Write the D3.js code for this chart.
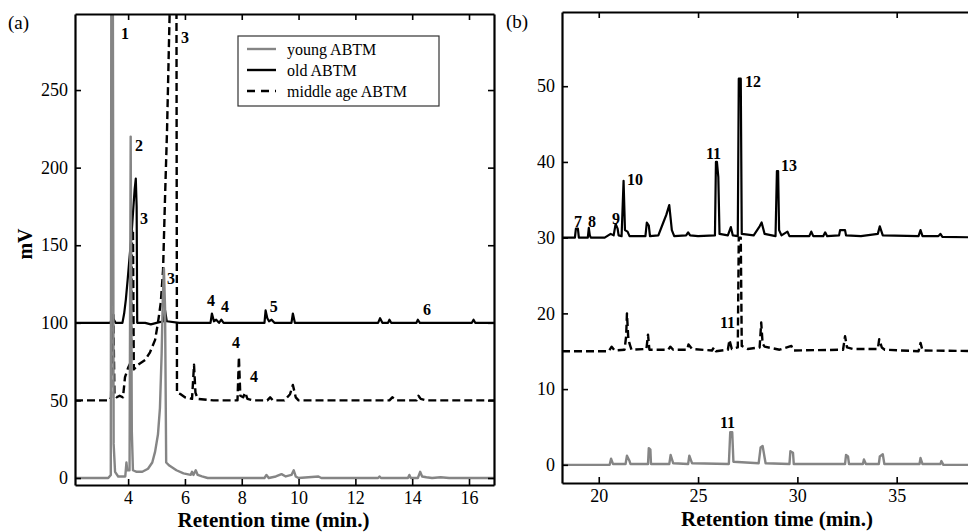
<!DOCTYPE html>
<html>
<head>
<meta charset="utf-8">
<script src="https://cdn.jsdelivr.net/npm/d3@7"></script>
<style>
  body { margin: 0; background: #fff; }
  svg text { font-family: 'Liberation Serif', 'Times New Roman', serif; fill: #000; }
</style>
</head>
<body>
<div class="chromatogram"></div>
<script>
// Chromatograms of ABTM extracts, two retention-time windows

// (a) 2 - 17 min
var a_xticks = [4, 6, 8, 10, 12, 14, 16];
var a_yticks = [0, 50, 100, 150, 200, 250];

var a_young_t = [2.13, 3.3, 3.39, 3.41, 3.46, 3.49, 3.54, 3.65, 3.9, 3.94, 3.97, 4.05, 4.09, 4.13, 4.17, 4.3, 4.5, 4.7, 4.85, 4.95, 5.05, 5.12, 5.18, 5.22, 5.26, 5.3, 5.34, 5.45, 5.7, 5.95, 6.2, 6.25, 6.3, 6.38, 6.45, 6.6, 6.8, 8.8, 8.87, 8.95, 9.2, 9.4, 9.55, 9.75, 9.83, 9.9, 10.0, 10.7, 10.8, 12.8, 12.85, 12.9, 13.85, 13.9, 13.95, 14.2, 14.28, 14.35, 14.5, 14.7, 15.0, 15.3, 16.88];
var a_young_v = [0, 0, 2, 340, 340, 22, 4, 1, 1, 10, 5, 5, 220, 30, 5, 4, 4, 6, 10, 17, 28, 45, 80, 115, 135, 110, 10, 8, 5, 3, 2, 4, 2, 5, 2, 1, 0, 0, 2, 0, 1, 2.5, 1, 2, 5, 1, 0, 1, 0, 0, 1, 0, 0, 2, 0, 0, 4, 1, 0.5, 0, 0.5, 0, 0];

var a_old_t = [2.13, 3.38, 3.42, 3.5, 3.56, 3.8, 3.86, 3.92, 3.98, 4.05, 4.12, 4.18, 4.23, 4.27, 4.3, 4.32, 4.6, 4.8, 5.0, 5.25, 5.3, 5.36, 5.8, 6.9, 6.95, 7.02, 7.1, 7.2, 7.28, 7.36, 8.8, 8.84, 8.9, 8.96, 9.05, 9.15, 9.75, 9.8, 9.87, 12.8, 12.87, 12.95, 13.15, 13.2, 13.26, 14.15, 14.2, 14.27, 16.1, 16.16, 16.22, 16.88];
var a_old_v = [100, 100, 103, 102, 100, 100, 106, 115, 127, 142, 157, 173, 186, 193, 175, 100, 100, 99, 100, 101, 108, 101, 100, 100, 106, 101, 102, 100, 102, 100, 100, 108, 103, 101, 102, 100, 100, 106, 100, 100, 103, 100, 100, 102, 100, 100, 102, 100, 100, 102, 100, 100];

var a_middle_t = [2.13, 3.35, 3.4, 3.44, 3.48, 3.52, 3.6, 3.7, 3.82, 3.89, 4.0, 4.1, 4.14, 4.17, 4.2, 4.35, 4.6, 4.77, 4.95, 5.05, 5.15, 5.23, 5.3, 5.37, 5.45, 5.5, 5.7, 5.72, 5.85, 6.0, 6.25, 6.32, 6.37, 6.45, 7.0, 7.85, 7.9, 7.95, 8.05, 8.12, 8.2, 8.4, 8.9, 9.0, 9.1, 9.5, 9.7, 9.8, 9.9, 10.0, 13.2, 13.3, 13.45, 14.15, 14.22, 14.3, 14.5, 16.88];
var a_middle_v = [50, 50, 52, 105, 105, 53, 52, 53, 52, 65, 71, 75, 160, 160, 70, 73, 76, 81, 89, 100, 113, 134, 181, 224, 290, 330, 330, 55, 54, 52, 51, 73, 55, 51, 50, 50, 78, 53, 52, 55, 51, 50, 50, 52, 50, 50, 54, 60, 52, 50, 50, 52, 50, 50, 53, 51, 50, 50];

var a_label_text = ['1', '2', '3', '3', '3', '4', '4', '5', '6', '4', '4'];
var a_label_t = [3.75, 4.24, 5.86, 4.42, 5.37, 6.78, 7.27, 8.99, 14.38, 7.66, 8.29];
var a_label_v = [283, 211, 280, 164, 125, 111, 107, 107, 105, 84, 62];

// (b) 18 - 40 min
var b_xticks = [20, 25, 30, 35];
var b_yticks = [0, 10, 20, 30, 40, 50];

var b_young_t = [18.15, 20.55, 20.62, 20.72, 21.35, 21.42, 21.55, 21.6, 22.48, 22.52, 22.6, 22.63, 23.55, 23.62, 23.75, 24.5, 24.56, 24.7, 26.55, 26.62, 26.72, 26.78, 28.05, 28.15, 28.25, 28.4, 29.6, 29.65, 29.78, 29.82, 32.4, 32.45, 32.55, 32.6, 33.3, 33.35, 33.45, 34.1, 34.15, 34.3, 34.38, 36.15, 36.2, 36.3, 37.2, 37.25, 37.35, 40];
var b_young_v = [0, 0, 0.8, 0.1, 0.1, 1.2, 0.5, 0.1, 0.1, 2.2, 2.0, 0.1, 0.1, 1.3, 0.2, 0.1, 1.2, 0.2, 0.1, 4.3, 4.3, 0.4, 0.2, 2.3, 2.5, 0.2, 0.1, 1.8, 1.6, 0.1, 0.1, 1.3, 1.1, 0.1, 0.1, 0.7, 0.1, 0.1, 1.1, 1.4, 0.1, 0.1, 0.9, 0.1, 0.1, 0.5, 0, 0];

var b_old_t = [18.15, 18.8, 18.85, 18.95, 19.0, 19.45, 19.5, 19.55, 19.6, 20.3, 20.6, 20.75, 20.85, 20.95, 21.0, 21.15, 21.25, 21.32, 21.45, 21.55, 22.35, 22.42, 22.52, 22.58, 23.0, 23.25, 23.4, 23.55, 23.68, 23.8, 24.4, 24.5, 24.6, 25.0, 25.85, 25.9, 25.95, 26.02, 26.08, 26.5, 26.65, 26.75, 27.0, 27.05, 27.15, 27.2, 27.8, 28.1, 28.2, 28.35, 28.9, 28.97, 29.03, 29.08, 29.2, 29.5, 29.6, 30.6, 30.7, 30.8, 31.3, 31.4, 31.5, 32.1, 32.15, 32.4, 32.45, 33.2, 34.05, 34.15, 34.3, 36.1, 36.2, 36.3, 37.1, 37.2, 37.3, 40];
var b_old_v = [30, 30, 31.2, 31.2, 30, 30, 31.3, 30.3, 30, 30, 30.5, 30.3, 31.8, 31.2, 30.3, 30.2, 37.5, 31, 30.8, 30.2, 30.2, 32, 31.6, 30.2, 30.3, 32, 33, 34.3, 31, 30.2, 30.3, 30.7, 30.3, 30.2, 30.3, 40, 40, 38, 30.5, 30.3, 31.4, 30.3, 30.2, 51, 51, 30.5, 30.3, 31.5, 32, 30.5, 30.2, 38.8, 38.8, 31, 30.3, 30.8, 30.2, 30.2, 30.8, 30.2, 30.2, 30.7, 30.2, 30.3, 31, 31, 30.3, 30.2, 30.5, 31.5, 30.3, 30.2, 31, 30.2, 30.2, 30.5, 30.1, 30];

var b_middle_t = [18.15, 20.5, 20.65, 20.8, 21.3, 21.38, 21.42, 21.48, 21.55, 21.65, 22.4, 22.48, 22.55, 23.5, 23.6, 23.75, 24.45, 24.52, 24.7, 25.7, 25.8, 25.9, 26.5, 26.58, 26.7, 27.0, 27.05, 27.15, 27.2, 27.5, 28.1, 28.18, 28.25, 28.35, 29.1, 29.7, 29.8, 32.3, 32.4, 32.5, 32.8, 34.05, 34.12, 34.25, 34.4, 36.1, 36.2, 36.3, 40];
var b_middle_v = [15, 15, 15.6, 15.1, 15.2, 17, 20, 17, 16, 15.2, 15.3, 17.2, 15.2, 15.2, 15.6, 15.2, 15.2, 15.9, 15.3, 15.1, 15.5, 15, 15.2, 16.5, 15.3, 15.5, 30, 30, 15.7, 15.3, 15.5, 18.8, 16, 15.6, 15.2, 15.7, 15.1, 15.2, 17, 15.5, 15.3, 15.3, 16.6, 15.5, 15.2, 15, 16.1, 15.1, 15];

var b_label_text = ['7', '8', '9', '10', '11', '12', '13', '11', '11'];
var b_label_t = [18.75, 19.46, 20.67, 21.42, 25.4, 27.36, 29.18, 26.1, 26.1];
var b_label_v = [31.4, 31.4, 31.8, 37, 40.4, 49.9, 38.8, 18.1, 4.9];

var legend_names = ['young ABTM', 'old ABTM', 'middle age ABTM'];

var grey = '#858585';
var serif = 'Liberation Serif, Times New Roman, serif';

var svg = d3.select('.chromatogram')
    .append('svg')
        .attr('width', 968)
        .attr('height', 532)
        .attr('font-family', serif)
        .style('display', 'block');

function drawFrame(g, x, y, xticks, yticks, w, h) {
    g.append('g')
        .attr('transform', 'translate(0,' + h + ')')
        .call(d3.axisBottom(x).tickValues(xticks).tickSizeInner(-6).tickSizeOuter(0).tickPadding(6));
    g.append('g')
        .call(d3.axisTop(x).tickValues(xticks).tickSizeInner(-6).tickSizeOuter(0).tickFormat(''));
    g.append('g')
        .call(d3.axisLeft(y).tickValues(yticks).tickSizeInner(-6).tickSizeOuter(0).tickPadding(7));
    g.append('g')
        .attr('transform', 'translate(' + w + ',0)')
        .call(d3.axisRight(y).tickValues(yticks).tickSizeInner(-6).tickSizeOuter(0).tickFormat(''));

    g.selectAll('.domain').attr('stroke', '#000').attr('stroke-width', 2.2);
    g.selectAll('.tick line').attr('stroke', '#000').attr('stroke-width', 1.6);
    g.selectAll('g').attr('font-family', serif).attr('font-size', 18);
    g.selectAll('.tick text').attr('fill', '#222');
}

function drawTraces(g, x, y, id, w, h, traces) {
    g.append('clipPath').attr('id', id)
        .append('rect').attr('width', w).attr('height', h);

    var line = d3.line()
        .x(function(d) { return x(d[0]); })
        .y(function(d) { return y(d[1]); });

    g.append('g')
        .attr('clip-path', 'url(#' + id + ')')
        .selectAll('path')
        .data(traces)
        .enter()
            .append('path')
            .attr('d', function(d) { return line(d3.zip(d.t, d.v)); })
            .attr('fill', 'none')
            .attr('stroke', function(d) { return d.color; })
            .attr('stroke-width', function(d) { return d.width; })
            .attr('stroke-dasharray', function(d) { return d.dash; })
            .attr('stroke-linejoin', 'round');
}

function drawLabels(g, x, y, text, t, v) {
    g.selectAll('.peak')
        .data(text)
        .enter()
            .append('text')
            .attr('class', 'peak')
            .attr('x', function(d, i) { return x(t[i]); })
            .attr('y', function(d, i) { return y(v[i]); })
            .attr('font-size', 16)
            .attr('font-weight', 'bold')
            .text(function(d) { return d; });
}

// panel (a)
var a_left = 75, a_top = 14, a_w = 419, a_h = 471;

var a_x = d3.scaleLinear().domain([2.13, 16.88]).range([0, a_w]);
var a_y = d3.scaleLinear().domain([-4.5, 299]).range([a_h, 0]);

var ga = svg.append('g').attr('transform', 'translate(' + a_left + ',' + a_top + ')');

drawTraces(ga, a_x, a_y, 'clip-a', a_w, a_h, [
    {t: a_middle_t, v: a_middle_v, color: '#000', width: 2.4, dash: '8,4'},
    {t: a_old_t, v: a_old_v, color: '#000', width: 2.2, dash: null},
    {t: a_young_t, v: a_young_v, color: grey, width: 2.4, dash: null}
]);
drawFrame(ga, a_x, a_y, a_xticks, a_yticks, a_w, a_h);
drawLabels(ga, a_x, a_y, a_label_text, a_label_t, a_label_v);

// legend
var legend = ga.append('g').attr('transform', 'translate(163,22)');
legend.append('rect')
    .attr('width', 201).attr('height', 70)
    .attr('fill', '#fff').attr('stroke', '#333').attr('stroke-width', 1.2);

var legend_style = [
    {color: grey, dash: null},
    {color: '#000', dash: null},
    {color: '#000', dash: '8,6'}
];

var rows = legend.selectAll('.row')
    .data(legend_names)
    .enter()
    .append('g')
        .attr('class', 'row')
        .attr('transform', function(d, i) { return 'translate(0,' + (13 + i * 21) + ')'; });

rows.append('line')
    .attr('x1', 9).attr('x2', 38)
    .attr('stroke', function(d, i) { return legend_style[i].color; })
    .attr('stroke-width', 2.4)
    .attr('stroke-dasharray', function(d, i) { return legend_style[i].dash; });

rows.append('text')
    .attr('x', 49).attr('y', 6)
    .attr('font-size', 16)
    .text(function(d) { return d; });

ga.append('text')
    .attr('x', a_w / 2 - 11).attr('y', 513)
    .attr('text-anchor', 'middle')
    .attr('font-size', 21).attr('font-weight', 'bold')
    .text('Retention time (min.)');

ga.append('text')
    .attr('transform', 'translate(-43,230) rotate(-90)')
    .attr('text-anchor', 'middle')
    .attr('font-size', 20).attr('font-weight', 'bold')
    .text('mV');

svg.append('text').attr('x', 8).attr('y', 29).attr('font-size', 19).text('(a)');

// panel (b)
var b_left = 562, b_top = 12, b_w = 434, b_h = 471;

var b_x = d3.scaleLinear().domain([18.15, 40]).range([0, b_w]);
var b_y = d3.scaleLinear().domain([-2.4, 59.8]).range([b_h, 0]);

var gb = svg.append('g').attr('transform', 'translate(' + b_left + ',' + b_top + ')');

drawTraces(gb, b_x, b_y, 'clip-b', b_w, b_h, [
    {t: b_middle_t, v: b_middle_v, color: '#000', width: 2.4, dash: '8,4'},
    {t: b_old_t, v: b_old_v, color: '#000', width: 2.2, dash: null},
    {t: b_young_t, v: b_young_v, color: grey, width: 2.4, dash: null}
]);
drawFrame(gb, b_x, b_y, b_xticks, b_yticks, b_w, b_h);
drawLabels(gb, b_x, b_y, b_label_text, b_label_t, b_label_v);

gb.append('text')
    .attr('x', 215).attr('y', 514)
    .attr('text-anchor', 'middle')
    .attr('font-size', 21).attr('font-weight', 'bold')
    .text('Retention time (min.)');

svg.append('text').attr('x', 506).attr('y', 28).attr('font-size', 19).text('(b)');
</script>
</body>
</html>
